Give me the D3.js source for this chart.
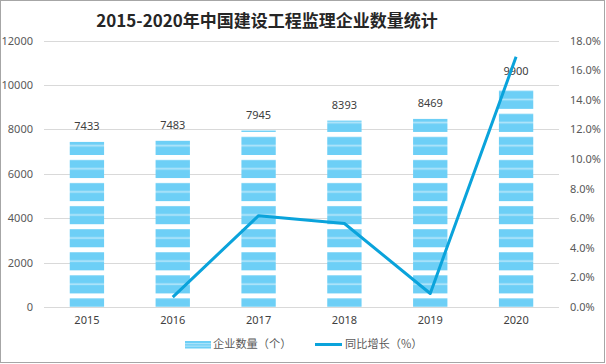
<!DOCTYPE html>
<html><head><meta charset="utf-8">
<script src="https://cdn.jsdelivr.net/npm/d3@7/dist/d3.min.js"></script>
<style>
html,body{margin:0;padding:0;background:#fff;}
text{font-family:"Noto Sans","Noto Sans CJK SC",sans-serif;}
</style></head>
<body><svg id="c" width="606" height="364"></svg>
<script>
const years = ["2015","2016","2017","2018","2019","2020"];
const counts = [7433,7483,7945,8393,8469,9900];
const growth = [null,0.67,6.17,5.64,0.91,16.9];
const leftTicks = [0,2000,4000,6000,8000,10000,12000];
const rightTicks = [0,2,4,6,8,10,12,14,16,18];
const title = "2015-2020年中国建设工程监理企业数量统计";
const legendLabels = ["企业数量（个）","同比增长（%）"];

const svg = d3.select("#c");
const L=44, R=559, T=40.5, B=307;
const barBlue="#6DCFF6", lightBlue="#B9E7FA", lineBlue="#0AA3DB", grey="#595959";

svg.append("rect").attr("x",0.5).attr("y",0.5).attr("width",604).attr("height",362)
  .attr("fill","#fff").attr("stroke","#A6A6A6").attr("stroke-width",1);

// pattern
const defs = svg.append("defs");
const P = 23.07;
const pat = defs.append("pattern").attr("id","stripes").attr("patternUnits","userSpaceOnUse")
  .attr("x",0).attr("y",155).attr("width",10).attr("height",P);
pat.append("rect").attr("x",0).attr("y",0).attr("width",10).attr("height",P).attr("fill","#fff");
pat.append("rect").attr("x",0).attr("y",5).attr("width",10).attr("height",P-5).attr("fill",barBlue);
pat.append("rect").attr("x",0).attr("y",13).attr("width",10).attr("height",1.6).attr("fill",lightBlue);

const x = d3.scaleBand().domain(years).range([L,R]).paddingInner(0.6).paddingOuter(0.3);
const y = d3.scaleLinear().domain([0,12000]).range([B,T]);
const y2 = d3.scaleLinear().domain([0,18]).range([B,T]);

svg.append("text").attr("x",267).attr("y",22).attr("text-anchor","middle")
  .attr("dominant-baseline","middle").attr("font-size",17).attr("font-weight","bold")
  .attr("fill","#262626").style("font-family",'"Noto Sans CJK SC",sans-serif').text(title);

// gridlines
svg.append("g").selectAll("line").data(leftTicks).join("line")
  .attr("x1",L).attr("x2",R).attr("y1",d=>Math.round(y(d))+0.5).attr("y2",d=>Math.round(y(d))+0.5)
  .attr("stroke","#D9D9D9").attr("stroke-width",1);

// left axis
const gl = svg.append("g").attr("transform",`translate(${L},0)`)
  .call(d3.axisLeft(y).tickValues(leftTicks).tickSize(0).tickPadding(11).tickFormat(d3.format("d")));
gl.select(".domain").remove();
gl.selectAll("text").attr("font-size",11).attr("fill",grey).style("font-family",'"Noto Sans",sans-serif');

// right axis
const gr = svg.append("g").attr("transform",`translate(${R},0)`)
  .call(d3.axisRight(y2).tickValues(rightTicks).tickSize(0).tickPadding(11).tickFormat(d=>d.toFixed(1)+"%"));
gr.select(".domain").remove();
gr.selectAll("text").attr("font-size",11).attr("fill",grey).style("font-family",'"Noto Sans",sans-serif');

// x axis labels
const gx = svg.append("g").attr("transform",`translate(0,${B})`)
  .call(d3.axisBottom(x).tickSize(0).tickPadding(9));
gx.select(".domain").remove();
gx.selectAll("text").attr("font-size",11).attr("fill","#404040").style("font-family",'"Noto Sans",sans-serif');

// bars
svg.append("g").selectAll("rect").data(years).join("rect")
  .attr("x",d=>x(d)).attr("width",x.bandwidth())
  .attr("y",(d,i)=>y(counts[i])).attr("height",(d,i)=>B-y(counts[i]))
  .attr("fill","url(#stripes)");

// value labels
svg.append("g").selectAll("text").data(years).join("text")
  .attr("x",d=>x(d)+x.bandwidth()/2).attr("y",(d,i)=>y(counts[i])-15)
  .attr("text-anchor","middle").attr("dominant-baseline","middle")
  .attr("font-size",11).attr("fill","#404040").text((d,i)=>counts[i]);

// line
const pts = years.map((d,i)=>({d,v:growth[i]})).filter(p=>p.v!==null);
svg.append("path").datum(pts)
  .attr("d",d3.line().x(p=>x(p.d)+x.bandwidth()/2).y(p=>y2(p.v)))
  .attr("fill","none").attr("stroke",lineBlue).attr("stroke-width",3).attr("stroke-linejoin","round");

// legend
const lg = svg.append("g");
lg.append("rect").attr("x",185).attr("y",341).attr("width",26).attr("height",7.5).attr("fill",barBlue);
lg.append("rect").attr("x",185).attr("y",343.2).attr("width",26).attr("height",1).attr("fill",lightBlue);
lg.append("rect").attr("x",185).attr("y",345.6).attr("width",26).attr("height",1).attr("fill",lightBlue);
lg.append("text").attr("x",213).attr("y",345).attr("dominant-baseline","middle")
  .attr("font-size",11.2).attr("fill",grey).style("font-family",'"Noto Sans CJK SC",sans-serif').text(legendLabels[0]);
lg.append("line").attr("x1",315).attr("x2",342).attr("y1",344.5).attr("y2",344.5)
  .attr("stroke",lineBlue).attr("stroke-width",3);
lg.append("text").attr("x",345).attr("y",345).attr("dominant-baseline","middle")
  .attr("font-size",11.2).attr("fill",grey).style("font-family",'"Noto Sans CJK SC",sans-serif').text(legendLabels[1]);
</script></body></html>
